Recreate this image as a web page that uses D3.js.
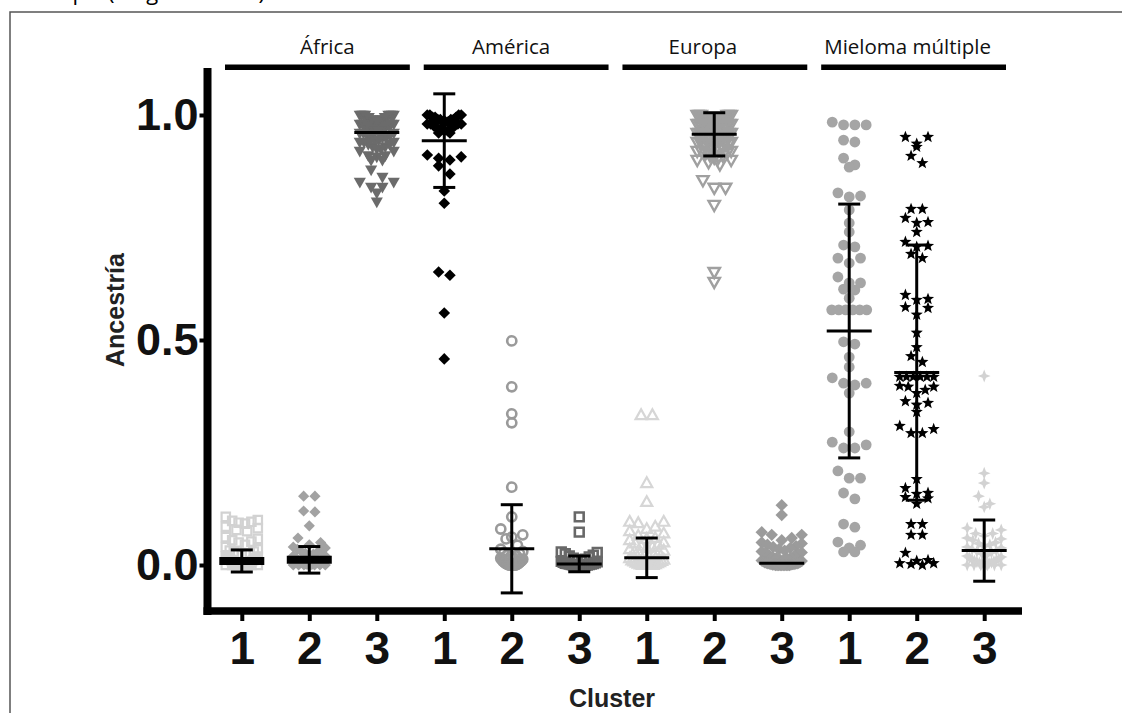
<!DOCTYPE html>
<html>
<head>
<meta charset="utf-8">
<script src="https://cdn.jsdelivr.net/npm/d3@7"></script>
<style>
  body { margin: 0; background: #fff; }
  svg { display: block; }
</style>
</head>
<body>
<svg id="chart" width="1122" height="713"></svg>
<script>
// ---- Data -------------------------------------------------------------
const groups = ["África", "América", "Europa", "Mieloma múltiple"];
const clusters = ["1", "2", "3"];
const yTickValues = [0.0, 0.5, 1.0];

// Ancestry proportions per individual, one array per group/cluster
const africa1 = [0.107, 0.1, 0.098, 0.096, 0.094, 0.092, 0.085, 0.082, 0.078, 0.075, 0.062, 0.058, 0.055,
  0.052, 0.05, 0.045, 0.04, 0.035, 0.032, 0.03, 0.028, 0.026, 0.025, 0.024, 0.022, 0.02, 0.019, 0.018,
  0.016, 0.015, 0.014, 0.012, 0.011, 0.01, 0.009, 0.008, 0.007, 0.006, 0.005, 0.004, 0.004, 0.003,
  0.003, 0.002, 0.002, 0.001, 0.001, 0.001, 0, 0, 0, 0, 0, 0];
const africa2 = [0.153, 0.153, 0.12, 0.118, 0.087, 0.06, 0.05, 0.045, 0.04, 0.038, 0.035, 0.032, 0.03, 0.028,
  0.026, 0.024, 0.022, 0.02, 0.02, 0.018, 0.016, 0.015, 0.014, 0.013, 0.012, 0.011, 0.01, 0.01, 0.009,
  0.008, 0.007, 0.006, 0.006, 0.005, 0.005, 0.004, 0.004, 0.003, 0.003, 0.002, 0.002, 0.002, 0.001,
  0.001, 0.001, 0, 0, 0, 0, 0, 0, 0];
const africa3 = [1.0, 1.0, 1.0, 1.0, 1.0, 1.0, 1.0, 1.0, 0.995, 0.995, 0.995, 0.995, 0.99, 0.99, 0.99, 0.99,
  0.985, 0.985, 0.985, 0.985, 0.98, 0.98, 0.98, 0.98, 0.975, 0.975, 0.975, 0.975, 0.97, 0.97, 0.97,
  0.965, 0.965, 0.965, 0.96, 0.96, 0.96, 0.955, 0.955, 0.95, 0.95, 0.95, 0.945, 0.945, 0.94, 0.94, 0.94,
  0.935, 0.935, 0.93, 0.93, 0.925, 0.925, 0.92, 0.92, 0.91, 0.91, 0.907, 0.9, 0.9, 0.878, 0.862, 0.851,
  0.851, 0.84, 0.84, 0.827, 0.807];
const america1 = [1.0, 1.0, 1.0, 1.0, 0.995, 0.995, 0.995, 0.99, 0.99, 0.99, 0.99, 0.985, 0.985, 0.985,
  0.98, 0.98, 0.98, 0.98, 0.975, 0.975, 0.97, 0.97, 0.97, 0.965, 0.965, 0.96, 0.96, 0.911, 0.907, 0.904,
  0.9, 0.887, 0.869, 0.831, 0.804, 0.651, 0.644, 0.56, 0.458];
const america2 = [0.498, 0.396, 0.336, 0.316, 0.173, 0.107, 0.08, 0.067, 0.062, 0.058, 0.044, 0.035, 0.03,
  0.027, 0.025, 0.022, 0.02, 0.018, 0.016, 0.015, 0.013, 0.012, 0.01, 0.009, 0.008, 0.007, 0.006, 0.005,
  0.004, 0.003, 0.002, 0.002, 0.001, 0.001, 0, 0, 0, 0, 0, 0, 0];
const america3 = [0.107, 0.073, 0.029, 0.028, 0.025, 0.022, 0.02, 0.018, 0.015, 0.013, 0.012, 0.01, 0.008,
  0.007, 0.006, 0.005, 0.004, 0.003, 0.003, 0.002, 0.002, 0.001, 0.001, 0, 0, 0, 0, 0, 0, 0, 0];
const europa1 = [0.333, 0.333, 0.182, 0.14, 0.096, 0.096, 0.093, 0.085, 0.08, 0.075, 0.07, 0.065, 0.06,
  0.058, 0.055, 0.05, 0.048, 0.045, 0.042, 0.04, 0.038, 0.035, 0.032, 0.03, 0.028, 0.025, 0.022, 0.02,
  0.018, 0.015, 0.012, 0.01, 0.009, 0.008, 0.006, 0.005, 0.004, 0.003, 0.002, 0.001, 0, 0, 0, 0, 0, 0];
const europa2 = [1.0, 1.0, 1.0, 1.0, 1.0, 1.0, 0.995, 0.995, 0.995, 0.995, 0.99, 0.99, 0.99, 0.99, 0.985,
  0.985, 0.985, 0.985, 0.98, 0.98, 0.98, 0.98, 0.975, 0.975, 0.975, 0.975, 0.97, 0.97, 0.97, 0.97, 0.965,
  0.965, 0.965, 0.965, 0.96, 0.96, 0.96, 0.96, 0.955, 0.955, 0.955, 0.955, 0.95, 0.95, 0.95, 0.95, 0.945,
  0.945, 0.945, 0.94, 0.94, 0.94, 0.935, 0.935, 0.935, 0.93, 0.93, 0.93, 0.925, 0.925, 0.925, 0.92, 0.92,
  0.92, 0.915, 0.915, 0.91, 0.91, 0.905, 0.905, 0.9, 0.9, 0.895, 0.89, 0.855, 0.838, 0.838, 0.8, 0.651,
  0.629];
const europa3 = [0.133, 0.111, 0.073, 0.067, 0.067, 0.06, 0.055, 0.05, 0.048, 0.045, 0.042, 0.04, 0.038,
  0.035, 0.032, 0.03, 0.028, 0.026, 0.024, 0.022, 0.02, 0.018, 0.016, 0.015, 0.014, 0.012, 0.011, 0.01,
  0.009, 0.008, 0.007, 0.006, 0.005, 0.005, 0.004, 0.004, 0.003, 0.003, 0.002, 0.002, 0.002, 0.001,
  0.001, 0.001, 0, 0, 0, 0, 0, 0, 0, 0, 0, 0];
const mieloma1 = [0.984, 0.978, 0.978, 0.978, 0.944, 0.94, 0.904, 0.889, 0.884, 0.827, 0.82, 0.818, 0.789,
  0.76, 0.74, 0.711, 0.707, 0.682, 0.682, 0.671, 0.64, 0.627, 0.627, 0.613, 0.611, 0.593, 0.567, 0.567,
  0.567, 0.567, 0.567, 0.567, 0.496, 0.491, 0.462, 0.44, 0.416, 0.404, 0.404, 0.4, 0.382, 0.296, 0.273,
  0.267, 0.26, 0.26, 0.209, 0.193, 0.193, 0.16, 0.147, 0.091, 0.084, 0.051, 0.044, 0.038, 0.029, 0.029];
const mieloma2 = [0.951, 0.951, 0.936, 0.929, 0.909, 0.893, 0.791, 0.791, 0.771, 0.762, 0.76, 0.74, 0.718,
  0.709, 0.707, 0.691, 0.682, 0.6, 0.591, 0.589, 0.573, 0.571, 0.556, 0.516, 0.484, 0.464, 0.451, 0.418,
  0.418, 0.418, 0.418, 0.418, 0.418, 0.398, 0.396, 0.396, 0.389, 0.382, 0.364, 0.36, 0.356, 0.34, 0.309,
  0.302, 0.293, 0.293, 0.191, 0.171, 0.16, 0.158, 0.151, 0.148, 0.136, 0.091, 0.091, 0.067, 0.067, 0.027,
  0.011, 0.009, 0.004, 0.004, 0.002, 0];
const mieloma3 = [0.42, 0.204, 0.182, 0.153, 0.136, 0.129, 0.082, 0.078, 0.07, 0.07, 0.065, 0.06, 0.058,
  0.055, 0.05, 0.048, 0.045, 0.042, 0.04, 0.038, 0.035, 0.032, 0.03, 0.028, 0.025, 0.022, 0.02, 0.018,
  0.016, 0.014, 0.012, 0.01, 0.009, 0.008, 0.007, 0.006, 0.005, 0.004, 0.003, 0.002, 0.001, 0, 0, 0, 0,
  0, 0];

// Summary statistics (mean and standard deviation) for each group/cluster
const meanValues = [0.009, 0.0115, 0.961, 0.943, 0.036, 0.0025, 0.016, 0.957, 0.004, 0.52, 0.4275, 0.032];
const sdValues = [0.0245, 0.0295, null, 0.104, 0.098, 0.0175, 0.044, 0.048, null, 0.282, 0.2835, 0.068];

const cellValues = [africa1, africa2, africa3, america1, america2, america3,
                    europa1, europa2, europa3, mieloma1, mieloma2, mieloma3];

// ---- Marker appearance per group/cluster -------------------------------
const markerStyles = [
  { shape: "square",  size: 4.2, fill: "none",    stroke: "#d2d2d2", sw: 2.2, halfW: 16 },
  { shape: "diamond", size: 5.6, fill: "#a2a2a2", halfW: 16 },
  { shape: "triDown", size: 6.4, fill: "#6b6b6b", halfW: 17 },
  { shape: "diamond", size: 5.8, fill: "#000000", halfW: 17 },
  { shape: "circle",  size: 4.6, fill: "none",    stroke: "#9a9a9a", sw: 2.6, halfW: 11 },
  { shape: "square",  size: 4.4, fill: "none",    stroke: "#686868", sw: 2.6, halfW: 18 },
  { shape: "triUp",   size: 5.8, fill: "none",    stroke: "#d6d6d6", sw: 2.2, halfW: 17 },
  { shape: "triDown", size: 6.0, fill: "none",    stroke: "#a0a0a0", sw: 2.4, halfW: 17 },
  { shape: "diamond", size: 6.2, fill: "#9b9b9b", halfW: 20 },
  { shape: "circle",  size: 5.4, fill: "#a5a5a5", halfW: 17.5 },
  { shape: "star",    size: 6.4, fill: "#000000", halfW: 17 },
  { shape: "star4",   size: 6.4, fill: "#d2d2d2", halfW: 17 }
];
const thickMean = [8, 8, 3, 3, 3, 3, 3, 3, 3, 3, 3, 3];
// horizontal nudge of each header caption relative to its bar centre
const headerShift = [10, -5, -12, -6];

function shapePath(shape, s) {
  switch (shape) {
    case "square":  return `M${-s},${-s}H${s}V${s}H${-s}Z`;
    case "diamond": return `M0,${-s}L${s},0L0,${s}L${-s},0Z`;
    case "triUp":   return `M0,${-s}L${s * 0.95},${s * 0.68}L${-s * 0.95},${s * 0.68}Z`;
    case "triDown": return `M0,${s}L${s * 0.95},${-s * 0.68}L${-s * 0.95},${-s * 0.68}Z`;
    case "circle":  return d3.symbol(d3.symbolCircle, Math.PI * s * s)();
    case "star": {
      const pts = d3.range(10).map(i => {
        const a = -Math.PI / 2 + i * Math.PI / 5, r = i % 2 ? s * 0.42 : s;
        return [r * Math.cos(a), r * Math.sin(a)];
      });
      return "M" + pts.join("L") + "Z";
    }
    case "star4": {
      const pts = d3.range(8).map(i => {
        const a = -Math.PI / 2 + i * Math.PI / 4, r = i % 2 ? s * 0.4 : s;
        return [r * Math.cos(a), r * Math.sin(a)];
      });
      return "M" + pts.join("L") + "Z";
    }
  }
}

// ---- Scales -------------------------------------------------------------
const svg = d3.select("#chart");
const keys = [];
groups.forEach((g, gi) => clusters.forEach(c => keys.push(gi + "-" + c)));

const x = d3.scalePoint().domain(keys).range([204, 1022]).padding(0.56);
const y = d3.scaleLinear().domain([-0.1022, 1.1044]).range([611, 68]);
const groupBand = d3.scaleBand().domain(groups).range([225, 1006]).paddingInner(0.07);

// ---- Frame and the caption line running above it -----------------------
svg.append("rect")
  .attr("x", 10).attr("y", 12).attr("width", 1130).attr("height", 720)
  .attr("fill", "none").attr("stroke", "#555").attr("stroke-width", 1.5);

svg.append("text").attr("x", 34).attr("y", -0.5)
  .attr("font-family", "Open Sans, sans-serif").attr("font-size", 22)
  .attr("fill", "#000").text("Grupo");
svg.append("text").attr("x", 108).attr("y", -0.5)
  .attr("font-family", "Open Sans, sans-serif").attr("font-size", 22)
  .attr("textLength", 157).attr("fill", "#000").text("(Figura 10)");

// ---- Points (rows spread horizontally, beeswarm style) -----------------
function swarm(values, cx, halfW, spacing, binPx) {
  const pts = values.map(v => ({ v, py: y(v) })).sort((a, b) => a.py - b.py);
  const rows = [];
  let cur = null;
  for (const p of pts) {
    if (!cur || p.py - cur.start > binPx) { cur = { start: p.py, items: [] }; rows.push(cur); }
    cur.items.push(p);
  }
  for (const row of rows) {
    const n = row.items.length;
    const step = n > 1 ? Math.min(spacing, (2 * halfW) / (n - 1)) : 0;
    const slots = d3.range(n).map(i => (i - (n - 1) / 2) * step);
    // higher values go to the outer slots, lower ones toward the middle
    let lo = 0, hi = n - 1;
    row.items.forEach((p, i) => { p.px = cx + slots[i % 2 === 0 ? lo++ : hi--]; });
  }
  return pts;
}

const plot = svg.append("g");
cellValues.forEach((vals, i) => {
  const st = markerStyles[i];
  const pts = swarm(vals, x(keys[i]), st.halfW, 11.3, 9);
  plot.append("g").selectAll("path").data(pts).join("path")
    .attr("d", shapePath(st.shape, st.size))
    .attr("transform", d => `translate(${d.px},${d.py})`)
    .attr("fill", st.fill)
    .attr("stroke", st.stroke || "none")
    .attr("stroke-width", st.sw || 0);
});

// ---- Mean and SD bars ----------------------------------------------------
const bars = svg.append("g").attr("stroke", "#000").attr("fill", "none");
keys.forEach((k, i) => {
  const cx = x(k), m = meanValues[i], sd = sdValues[i];
  bars.append("line").attr("x1", cx - 22.5).attr("x2", cx + 22.5)
    .attr("y1", y(m)).attr("y2", y(m)).attr("stroke-width", thickMean[i]);
  if (sd != null) {
    bars.append("line").attr("x1", cx).attr("x2", cx)
      .attr("y1", y(m + sd)).attr("y2", y(m - sd)).attr("stroke-width", 3);
    [m + sd, m - sd].forEach(v => bars.append("line")
      .attr("x1", cx - 11).attr("x2", cx + 11).attr("y1", y(v)).attr("y2", y(v))
      .attr("stroke-width", 3));
  }
});

// ---- Axes ----------------------------------------------------------------
const yAxis = svg.append("g").attr("transform", "translate(207.5,0)")
  .call(d3.axisLeft(y).tickValues(yTickValues).tickFormat(d3.format(".1f"))
    .tickSize(8).tickSizeOuter(0).tickPadding(1));
yAxis.select(".domain").attr("stroke-width", 8).attr("d", "M0,68V615");
yAxis.selectAll(".tick line").attr("stroke-width", 4);
yAxis.selectAll(".tick text")
  .attr("font-family", "Liberation Sans, Arial, sans-serif").attr("font-weight", "bold")
  .attr("font-size", 45).attr("fill", "#111");

const xAxis = svg.append("g").attr("transform", "translate(0,611)")
  .call(d3.axisBottom(x).tickFormat(k => k.split("-")[1]).tickSize(10).tickSizeOuter(0).tickPadding(10));
xAxis.select(".domain").attr("stroke-width", 7.5).attr("d", "M203.5,0H1022");
xAxis.selectAll(".tick line").attr("stroke-width", 4);
xAxis.selectAll(".tick text")
  .attr("font-family", "Liberation Sans, Arial, sans-serif").attr("font-weight", "bold")
  .attr("font-size", 46).attr("fill", "#111");

svg.append("text").attr("x", 612).attr("y", 707).attr("text-anchor", "middle")
  .attr("font-family", "Liberation Sans, Arial, sans-serif").attr("font-weight", "bold")
  .attr("font-size", 25).attr("fill", "#222").text("Cluster");

svg.append("text").attr("transform", "translate(124,310) rotate(-90)").attr("text-anchor", "middle")
  .attr("font-family", "Liberation Sans, Arial, sans-serif").attr("font-weight", "bold")
  .attr("font-size", 25).attr("fill", "#222").text("Ancestría");

// ---- Group headers -------------------------------------------------------
const headers = svg.append("g");
groups.forEach((g, gi) => {
  headers.append("rect").attr("x", groupBand(g)).attr("y", 64.5)
    .attr("width", groupBand.bandwidth()).attr("height", 5.5).attr("fill", "#000");
  headers.append("text")
    .attr("x", groupBand(g) + groupBand.bandwidth() / 2 + headerShift[gi]).attr("y", 54)
    .attr("text-anchor", "middle").attr("font-family", "Open Sans, sans-serif")
    .attr("font-size", 20.5).attr("fill", "#111").text(g);
});
</script>
</body>
</html>
